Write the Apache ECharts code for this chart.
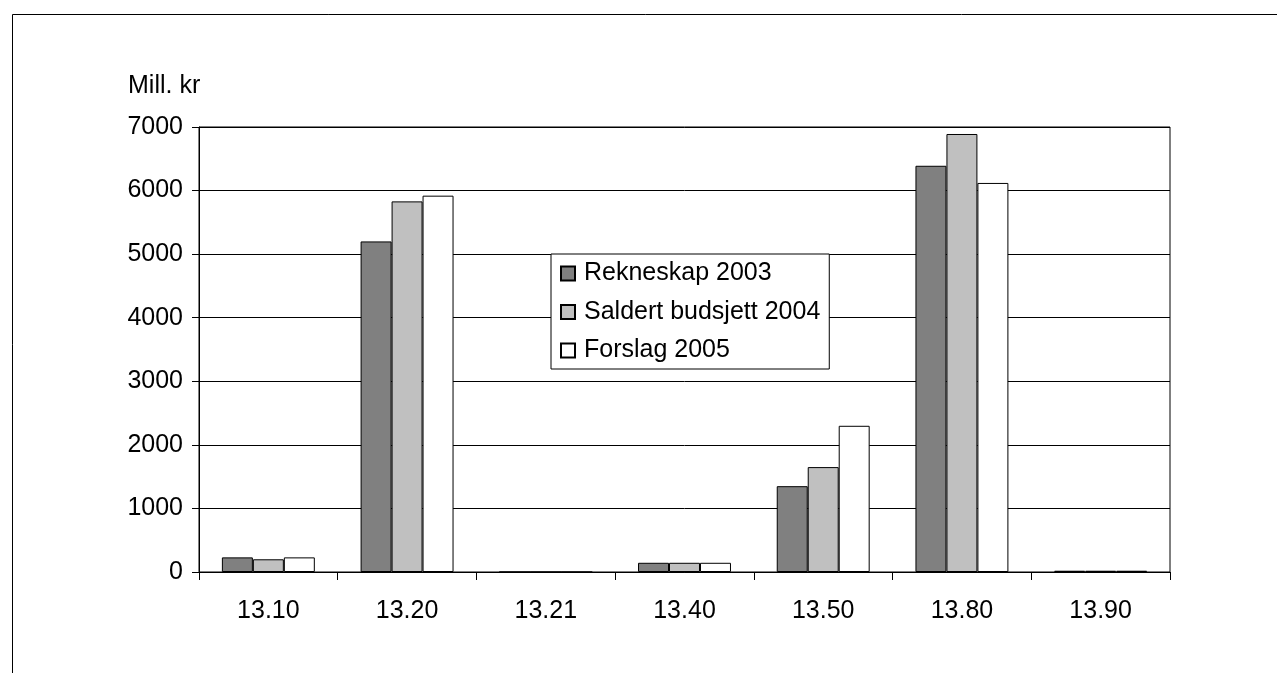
<!DOCTYPE html>
<html>
<head>
<meta charset="utf-8">
<script src="https://cdn.jsdelivr.net/npm/echarts@6/dist/echarts.min.js"></script>
<style>
html,body{margin:0;padding:0;background:#fff;}
#chart{width:1277px;height:673px;}
</style>
</head>
<body>
<div id="chart"></div>
<script>
const categories = ['13.10','13.20','13.21','13.40','13.50','13.80','13.90'];
const rekneskap2003 = [230, 5200, 0, 145, 1350, 6390, 20];
const saldert2004 = [200, 5830, 0, 145, 1650, 6890, 20];
const forslag2005 = [230, 5920, 0, 145, 2300, 6120, 20];
const seriesNames = ['Rekneskap 2003','Saldert budsjett 2004','Forslag 2005'];
const yTicks = [0, 1000, 2000, 3000, 4000, 5000, 6000, 7000];
const unitLabel = 'Mill. kr';

const FONT = 'Liberation Sans, Arial, sans-serif';
const chart = echarts.init(document.getElementById('chart'), null, {renderer:'canvas'});
const colors = ['#808080','#C0C0C0','#FFFFFF'];
const dataSets = [rekneskap2003, saldert2004, forslag2005];

chart.setOption({
  animation:false,
  backgroundColor:'#fff',
  textStyle:{fontFamily:FONT},
  graphic:[
    {type:'rect', left:10, top:12, shape:{width:1400, height:800}, style:{fill:'none', stroke:'#000', lineWidth:1}, silent:true},
    {type:'text', left:128, top:74, style:{text:unitLabel, font:'25px ' + FONT, fill:'#000'}}
  ],
  grid:{left:199, right:107, top:127, bottom:101, show:true, borderColor:'#000', borderWidth:1, backgroundColor:'transparent'},
  legend:{
    orient:'vertical', left:551, top:254,
    padding:[7,9,6,9],
    itemWidth:14, itemHeight:14, itemGap:13.5,
    icon:'rect',
    borderColor:'#000', borderWidth:1, backgroundColor:'#fff',
    textStyle:{fontFamily:FONT, fontSize:25, color:'#000', lineHeight:25, padding:[0,0,0,4]},
    data:seriesNames
  },
  xAxis:{
    type:'category', data:categories,
    axisLine:{lineStyle:{color:'#000', width:1}},
    axisTick:{show:true, length:8, lineStyle:{color:'#000'}},
    axisLabel:{color:'#000', fontSize:25, fontFamily:FONT, margin:27}
  },
  yAxis:{
    type:'value', min:yTicks[0], max:yTicks[yTicks.length-1], interval:yTicks[1]-yTicks[0],
    axisLine:{show:true, lineStyle:{color:'#000', width:1}},
    axisTick:{show:true, length:7, lineStyle:{color:'#000'}},
    axisLabel:{color:'#000', fontSize:25, fontFamily:FONT, margin:16, formatter:(v)=>String(v)},
    splitLine:{show:true, lineStyle:{color:'#000', width:1}}
  },
  series: seriesNames.map((n,i)=>({
    name:n, type:'bar', data:dataSets[i],
    barGap:'0%', barCategoryGap:'33%',
    itemStyle:{color:colors[i], borderColor:'#000', borderWidth:1}
  }))
});
</script>
</body>
</html>
